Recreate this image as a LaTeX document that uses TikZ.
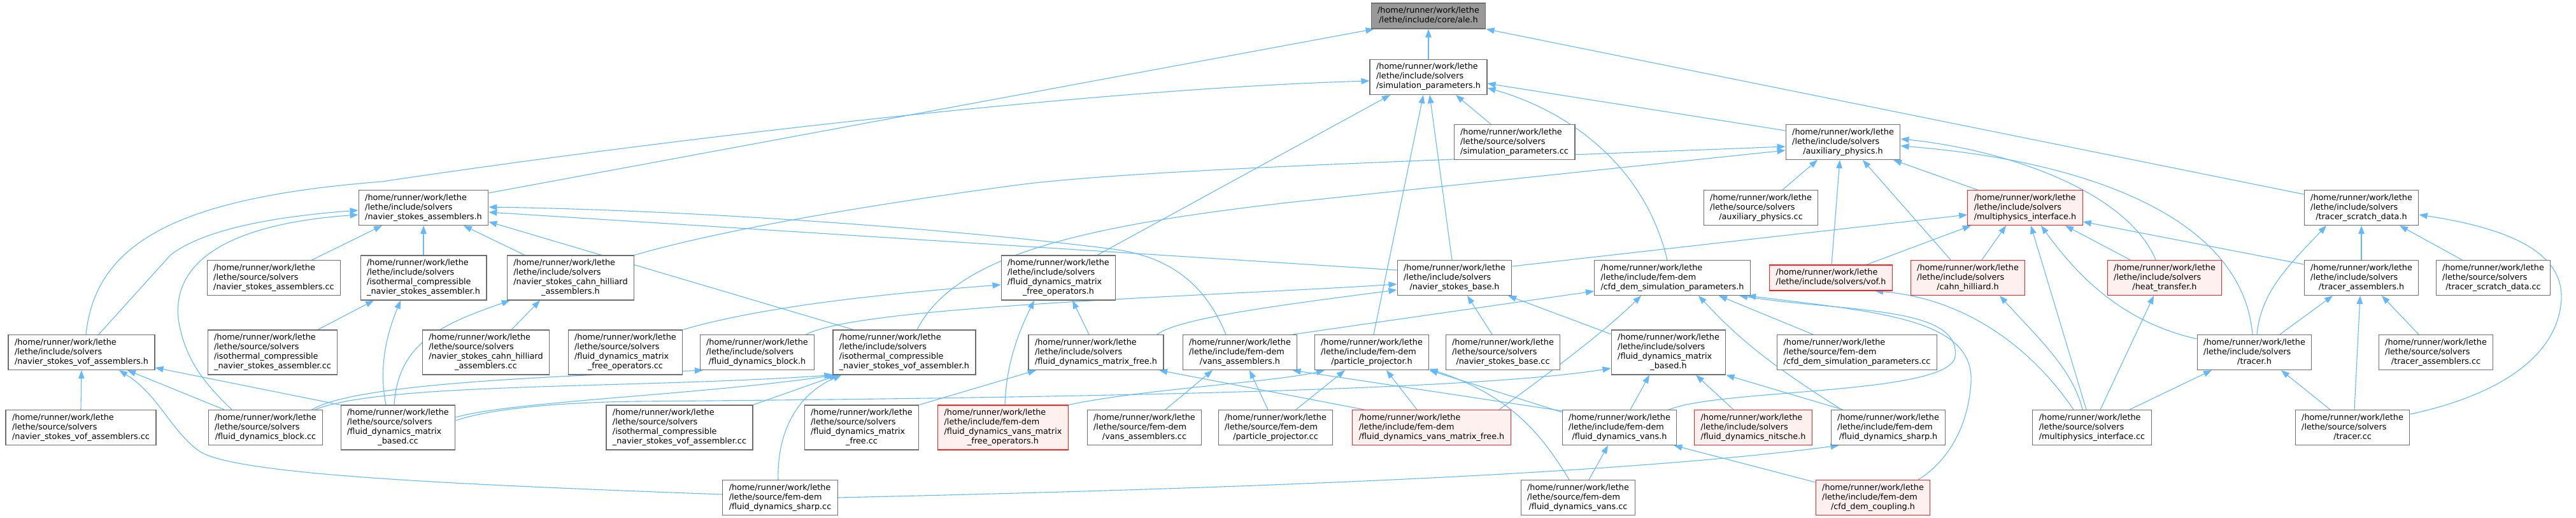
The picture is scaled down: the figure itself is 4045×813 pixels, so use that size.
\documentclass[tikz,border=0pt]{standalone}
\usepackage{fontspec}
\newfontfamily\dvs{DejaVu Sans}
\usetikzlibrary{arrows.meta}
\definecolor{eb}{HTML}{63B8FF}
\definecolor{bd}{HTML}{6E6E6E}
\definecolor{rb}{HTML}{FF2020}
\definecolor{rf}{HTML}{FFF0F0}
\definecolor{rootf}{HTML}{999999}
\newcommand{\hrw}{/home/runner/work/lethe}
\newcommand{\dlab}[2]{\begin{tabular}{@{}l@{}}#1\\\multicolumn{1}{@{}c@{}}{#2}\end{tabular}}
\pgfdeclarelayer{bg}
\pgfsetlayers{bg,main}
\begin{document}
\begin{tikzpicture}[x=1pt,y=-1pt,
  n/.style={draw=bd,fill=white,line width=1.2pt,inner xsep=10pt,inner ysep=5pt,
    font={\dvs\fontsize{12.8}{15}\selectfont}},
  rn/.style={n,draw=rb,fill=rf},
  root/.style={n,fill=rootf,draw=bd},
  e/.style={draw=eb,line width=1.1pt,{Triangle[length=13pt,width=9.5pt]}-}]
\path[use as bounding box] (0,0) rectangle (4045,813);
% row 1-3
\node[root] (ale) at (2243,25) {\dlab{\hrw}{/lethe/include/core/ale.h}};
\node[n] (sp) at (2243,121) {\dlab{\hrw\\/lethe/include/solvers}{/simulation\_parameters.h}};
\node[n] (spcc) at (2378,223) {\dlab{\hrw\\/lethe/source/solvers}{/simulation\_parameters.cc}};
\node[n] (aux) at (2894,223) {\dlab{\hrw\\/lethe/include/solvers}{/auxiliary\_physics.h}};
% row 4
\node[n] (nsa) at (665,326) {\dlab{\hrw\\/lethe/include/solvers}{/navier\_stokes\_assemblers.h}};
\node[n] (auxcc) at (2765,326) {\dlab{\hrw\\/lethe/source/solvers}{/auxiliary\_physics.cc}};
\node[rn] (mpi) at (3180,326) {\dlab{\hrw\\/lethe/include/solvers}{/multiphysics\_interface.h}};
\node[n] (tsd) at (3708,326) {\dlab{\hrw\\/lethe/include/solvers}{/tracer\_scratch\_data.h}};
% row 5
\node[n] (nsacc) at (430,436) {\dlab{\hrw\\/lethe/source/solvers}{/navier\_stokes\_assemblers.cc}};
\node[n] (icnsa) at (665,436) {\dlab{\hrw\\/lethe/include/solvers\\/isothermal\_compressible}{\_navier\_stokes\_assembler.h}};
\node[n] (nschaa) at (896,436) {\dlab{\hrw\\/lethe/include/solvers\\/navier\_stokes\_cahn\_hilliard}{\_assemblers.h}};
\node[n] (fdmfo) at (1662,436) {\dlab{\hrw\\/lethe/include/solvers\\/fluid\_dynamics\_matrix}{\_free\_operators.h}};
\node[n] (nsb) at (2284,436) {\dlab{\hrw\\/lethe/include/solvers}{/navier\_stokes\_base.h}};
\node[n] (cfdsp) at (2626,436) {\dlab{\hrw\\/lethe/include/fem-dem}{/cfd\_dem\_simulation\_parameters.h}};
\node[rn] (vof) at (2875,436) {\dlab{\hrw}{/lethe/include/solvers/vof.h}};
\node[rn] (ch) at (3090,436) {\dlab{\hrw\\/lethe/include/solvers}{/cahn\_hilliard.h}};
\node[rn] (ht) at (3399,436) {\dlab{\hrw\\/lethe/include/solvers}{/heat\_transfer.h}};
\node[n] (ta) at (3708,436) {\dlab{\hrw\\/lethe/include/solvers}{/tracer\_assemblers.h}};
\node[n] (tsdcc) at (3915,436) {\dlab{\hrw\\/lethe/source/solvers}{/tracer\_scratch\_data.cc}};
% row 6
\node[n] (nsvofa) at (128,553) {\dlab{\hrw\\/lethe/include/solvers}{/navier\_stokes\_vof\_assemblers.h}};
\node[n] (icnsacc) at (428,553) {\dlab{\hrw\\/lethe/source/solvers\\/isothermal\_compressible}{\_navier\_stokes\_assembler.cc}};
\node[n] (nschaacc) at (763,553) {\dlab{\hrw\\/lethe/source/solvers\\/navier\_stokes\_cahn\_hilliard}{\_assemblers.cc}};
\node[n] (fdmfocc) at (982,553) {\dlab{\hrw\\/lethe/source/solvers\\/fluid\_dynamics\_matrix}{\_free\_operators.cc}};
\node[n] (fdb) at (1189,553) {\dlab{\hrw\\/lethe/include/solvers}{/fluid\_dynamics\_block.h}};
\node[n] (icnsvofa) at (1420,553) {\dlab{\hrw\\/lethe/include/solvers\\/isothermal\_compressible}{\_navier\_stokes\_vof\_assembler.h}};
\node[n] (fdmf) at (1721,553) {\dlab{\hrw\\/lethe/include/solvers}{/fluid\_dynamics\_matrix\_free.h}};
\node[n] (vansa) at (1947,553) {\dlab{\hrw\\/lethe/include/fem-dem}{/vans\_assemblers.h}};
\node[n] (pp) at (2154,553) {\dlab{\hrw\\/lethe/include/fem-dem}{/particle\_projector.h}};
\node[n] (nsbcc) at (2360,553) {\dlab{\hrw\\/lethe/source/solvers}{/navier\_stokes\_base.cc}};
\node[n] (fdmb) at (2620,553) {\dlab{\hrw\\/lethe/include/solvers\\/fluid\_dynamics\_matrix}{\_based.h}};
\node[n] (cfdspcc) at (2916,553) {\dlab{\hrw\\/lethe/source/fem-dem}{/cfd\_dem\_simulation\_parameters.cc}};
\node[n] (tracer) at (3540,553) {\dlab{\hrw\\/lethe/include/solvers}{/tracer.h}};
\node[n] (tacc) at (3825,553) {\dlab{\hrw\\/lethe/source/solvers}{/tracer\_assemblers.cc}};
% row 7
\node[n] (nsvofacc) at (127,671) {\dlab{\hrw\\/lethe/source/solvers}{/navier\_stokes\_vof\_assemblers.cc}};
\node[n] (fdbcc) at (417,671) {\dlab{\hrw\\/lethe/source/solvers}{/fluid\_dynamics\_block.cc}};
\node[n] (fdmbcc) at (625,671) {\dlab{\hrw\\/lethe/source/solvers\\/fluid\_dynamics\_matrix}{\_based.cc}};
\node[n] (icnsvofacc) at (1067,671) {\dlab{\hrw\\/lethe/source/solvers\\/isothermal\_compressible}{\_navier\_stokes\_vof\_assembler.cc}};
\node[n] (fdmfcc) at (1353,671) {\dlab{\hrw\\/lethe/source/solvers\\/fluid\_dynamics\_matrix}{\_free.cc}};
\node[rn] (fdvmfo) at (1575,671) {\dlab{\hrw\\/lethe/include/fem-dem\\/fluid\_dynamics\_vans\_matrix}{\_free\_operators.h}};
\node[n] (vansacc) at (1797,671) {\dlab{\hrw\\/lethe/source/fem-dem}{/vans\_assemblers.cc}};
\node[n] (ppcc) at (2003,671) {\dlab{\hrw\\/lethe/source/fem-dem}{/particle\_projector.cc}};
\node[rn] (fdvmf) at (2248,671) {\dlab{\hrw\\/lethe/include/fem-dem}{/fluid\_dynamics\_vans\_matrix\_free.h}};
\node[n] (fdv) at (2543,671) {\dlab{\hrw\\/lethe/include/fem-dem}{/fluid\_dynamics\_vans.h}};
\node[rn] (fdn) at (2753,671) {\dlab{\hrw\\/lethe/include/solvers}{/fluid\_dynamics\_nitsche.h}};
\node[n] (fds) at (2965,671) {\dlab{\hrw\\/lethe/include/fem-dem}{/fluid\_dynamics\_sharp.h}};
\node[n] (mpicc) at (3285,671) {\dlab{\hrw\\/lethe/source/solvers}{/multiphysics\_interface.cc}};
\node[n] (tracercc) at (3694,671) {\dlab{\hrw\\/lethe/source/solvers}{/tracer.cc}};
% row 8
\node[n] (fdscc) at (1225,781) {\dlab{\hrw\\/lethe/source/fem-dem}{/fluid\_dynamics\_sharp.cc}};
\node[n] (fdvcc) at (2478,781) {\dlab{\hrw\\/lethe/source/fem-dem}{/fluid\_dynamics\_vans.cc}};
\node[rn] (cfdc) at (2941,781) {\dlab{\hrw\\/lethe/include/fem-dem}{/cfd\_dem\_coupling.h}};

\begin{pgfonlayer}{bg}
% ale
\draw[e] (ale.south) -- (sp.north);
\draw[e] ([xshift=5pt]ale.south west) -- ([yshift=-5pt]nsa.north east);
\draw[e] (ale.south east) -- ([yshift=-7pt]tsd.north west);
% simulation parameters
\draw[e] ([yshift=-6pt]sp.west) .. controls (1700,140) and (1000,225) .. (600,285) .. controls (280,310) and (150,380) .. ([xshift=7pt]nsvofa.north);
\draw[e] ([xshift=-60pt]sp.south) -- ([xshift=61pt]fdmfo.north);
\draw[e] ([xshift=-8pt]sp.south) -- ([xshift=3pt]pp.north);
\draw[e] ([xshift=2pt]sp.south) -- ([xshift=-4pt]nsb.north);
\draw[e] ([xshift=43pt]sp.south) -- ([xshift=-37pt]spcc.north);
\draw[e] ([yshift=-17pt]sp.east) .. controls (2450,170) and (2580,250) .. ([xshift=-8pt]cfdsp.north);
\draw[e] ([yshift=-10pt]sp.east) -- ([yshift=18pt]aux.west);
% auxiliary physics
\draw[e] ([xshift=-40pt]aux.south) -- ([xshift=34pt]auxcc.north);
\draw[e] ([xshift=-5pt]aux.south) -- ([xshift=1pt]vof.north);
\draw[e] ([xshift=31pt]aux.south) -- ([xshift=-27pt]ch.north);
\draw[e] ([xshift=79pt]aux.south) -- ([xshift=-75pt]mpi.north);
\draw[e] ([yshift=5pt]aux.east) .. controls (3150,235) and (3340,300) .. ([xshift=-14pt]ht.north);
\draw[e] ([yshift=-6pt]aux.east) .. controls (3250,250) and (3520,330) .. ([xshift=-3pt]tracer.north);
\draw[e] ([yshift=-7pt]aux.west) .. controls (2300,250) and (1800,265) .. (1600,290) .. controls (1300,330) and (1100,370) .. (nschaa.north east);
\draw[e] ([yshift=-13pt]aux.west) -- (2022,318) .. controls (1700,355) and (1500,400) .. ([xshift=20pt]icnsvofa.north);
% multiphysics interface
\draw[e] ([xshift=25pt]mpi.south) .. controls (3260,430) and (3330,505) .. ([yshift=-7pt]tracer.north west);
\draw[e] ([xshift=9pt]mpi.south) -- ([xshift=-9pt]mpicc.north);
\draw[e] ([xshift=63pt]mpi.south) -- ([xshift=-54pt]ht.north);
\draw[e] ([xshift=-30pt]mpi.south) -- ([xshift=22pt]ch.north);
\draw[e] ([xshift=-85pt]mpi.south) -- ([xshift=56pt]vof.north);
\draw[e] ([yshift=-11pt]mpi.west) -- ([yshift=18pt]nsb.east);
\draw[e] ([yshift=-22pt]mpi.east) -- ([yshift=-7pt]ta.north west);
% tracer scratch data
\draw[e] ([xshift=-55pt]tsd.south) .. controls (3590,420) and (3550,460) .. ([xshift=4pt]tracer.north);
\draw[e] (tsd.south) -- (ta.north);
\draw[e] ([xshift=60pt]tsd.south) -- ([xshift=-49pt]tsdcc.north);
\draw[e] ([yshift=-11pt]tsd.east) .. controls (3950,360) and (4025,400) .. (4022,470) .. controls (4015,580) and (3880,630) .. ([yshift=21pt]tracercc.east);
% tracer assemblers / tracer
\draw[e] ([xshift=-45pt]ta.south) -- ([xshift=40pt]tracer.north);
\draw[e] ([xshift=32pt]ta.south) -- ([xshift=-27pt]tacc.north);
\draw[e] ([xshift=-2pt]ta.south) -- ([xshift=3pt]tracercc.north);
\draw[e] ([xshift=42pt]tracer.south) -- ([xshift=-35pt]tracercc.north);
\draw[e] ([xshift=-67pt]tracer.south) -- ([xshift=59pt]mpicc.north);
% cahn hilliard, heat transfer, vof
\draw[e] ([xshift=50pt]ch.south) .. controls (3200,530) and (3255,580) .. ([xshift=-15pt]mpicc.north);
\draw[e] ([xshift=-17pt]ht.south) -- ([xshift=13pt]mpicc.north);
\draw[e] ([xshift=69pt]vof.south) .. controls (3100,470) and (3200,560) .. ([xshift=-29pt]mpicc.north);
% cfd dem simulation parameters
\draw[e] ([xshift=105pt]cfdsp.south) .. controls (2900,490) and (3080,480) .. (3070,560) .. controls (3060,620) and (2700,610) .. ([xshift=78pt]fdv.north);
\draw[e] ([xshift=118pt]cfdsp.south) .. controls (2950,490) and (3100,500) .. (3095,600) .. controls (3090,680) and (3050,730) .. ([xshift=71pt]cfdc.north);
\draw[e] ([yshift=-21pt]cfdsp.west) -- ([xshift=83pt]vansa.north);
\draw[e] ([xshift=-49pt]cfdsp.south) .. controls (2520,520) and (2440,580) .. ([xshift=106pt]fdvmf.north);
\draw[e] ([xshift=73pt]cfdsp.south) -- ([xshift=-69pt]cfdspcc.north);
\draw[e] ([xshift=41pt]cfdsp.south) .. controls (2720,520) and (2760,560) .. ([xshift=-73pt]fds.north);
% navier stokes base
\draw[e] ([xshift=84pt]nsb.south) -- ([yshift=-7pt]fdmb.north west);
\draw[e] ([xshift=20pt]nsb.south) -- ([xshift=-17pt]nsbcc.north);
\draw[e] ([yshift=-10pt]nsb.west) .. controls (1900,465) and (1350,480) .. ([xshift=77pt]fdb.north);
\draw[e] ([yshift=-19pt]nsb.west) .. controls (2000,480) and (1850,500) .. ([xshift=96pt]fdmf.north);
% navier stokes assemblers
\draw[e] ([yshift=-7pt]nsa.east) -- ([yshift=12pt]nsb.west);
\draw[e] ([yshift=1pt]nsa.east) .. controls (1100,330) and (1500,360) .. (1740,390) .. controls (1830,400) and (1890,440) .. ([xshift=-22pt]vansa.north);
\draw[e] ([yshift=-22pt]nsa.east) -- ([xshift=-80pt]icnsvofa.north);
\draw[e] ([xshift=-65pt]nsa.south) -- ([xshift=60pt]nsacc.north);
\draw[e] (nsa.south) -- (icnsa.north);
\draw[e] ([xshift=63pt]nsa.south) -- ([xshift=-72pt]nschaa.north);
\draw[e] ([yshift=-4pt]nsa.west) .. controls (430,340) and (320,360) .. (268,400) -- ([xshift=27pt]nsvofa.north);
\draw[e] ([yshift=-11pt]nsa.west) .. controls (380,350) and (270,400) .. (280,500) .. controls (290,570) and (330,610) .. ([xshift=-53pt]fdbcc.north);
% isothermal / cahn hilliard assemblers
\draw[e] ([xshift=-78pt]icnsa.south) -- ([xshift=71pt]icnsacc.north);
\draw[e] ([xshift=-36pt]icnsa.south) .. controls (605,530) and (595,580) .. ([xshift=-19pt]fdmbcc.north);
\draw[e] ([xshift=5pt]nschaa.south west) .. controls (690,510) and (625,540) .. ([xshift=-6pt]fdmbcc.north);
\draw[e] ([xshift=-48pt]nschaa.south) -- ([xshift=40pt]nschaacc.north);
% navier stokes vof assemblers
\draw[e] (nsvofa.south) -- (nsvofacc.north);
\draw[e] ([xshift=59pt]nsvofa.south) .. controls (250,620) and (270,680) .. (316,710) .. controls (380,745) and (700,760) .. ([yshift=5pt]fdscc.west);
\draw[e] ([xshift=72pt]nsvofa.south) -- ([xshift=-65pt]fdbcc.north);
\draw[e] ([yshift=-24pt]nsvofa.east) -- (fdmbcc.north west);
% fluid dynamics block
\draw[e] ([xshift=-85pt]fdb.south) .. controls (900,590) and (560,600) .. ([xshift=73pt]fdbcc.north);
% isothermal vof assembler
\draw[e] (icnsvofa.south west) .. controls (1000,610) and (600,600) .. ([xshift=78pt]fdbcc.north);
\draw[e] ([xshift=4pt]icnsvofa.south west) .. controls (1100,620) and (800,630) .. ([yshift=16pt]fdmbcc.east);
\draw[e] ([xshift=8pt]icnsvofa.south west) -- (icnsvofacc.north east);
\draw[e] ([xshift=14pt]icnsvofa.south west) .. controls (1250,620) and (1220,680) .. ([xshift=-3pt]fdscc.north);
% matrix based
\draw[e] ([yshift=-25pt]fdmb.west) .. controls (2300,615) and (1600,625) .. (1000,630) .. controls (850,632) and (760,645) .. ([yshift=11pt]fdmbcc.east);
\draw[e] ([xshift=-30pt]fdmb.south) -- ([xshift=17pt]fdv.north);
\draw[e] ([xshift=43pt]fdmb.south) -- ([xshift=-31pt]fdn.north);
\draw[e] (fdmb.south east) -- ([xshift=19pt]fds.north west);
% matrix free
\draw[e] ([xshift=-94pt]fdmf.south) -- (fdmfcc.north east);
\draw[e] ([xshift=22pt]fdmfo.south) -- ([xshift=-11pt]fdmf.north);
\draw[e] ([xshift=-38pt]fdmfo.south) .. controls (1600,520) and (1580,570) .. ([xshift=3pt]fdvmfo.north);
\draw[e] ([yshift=-11pt]fdmfo.west) .. controls (1400,460) and (1200,480) .. (fdmfocc.north east);
\draw[e] ([xshift=99pt]fdmf.south) -- ([xshift=19pt]fdvmf.north west);
% particle projector
\draw[e] ([xshift=-74pt]pp.south) .. controls (2000,600) and (1800,610) .. (fdvmfo.north east);
\draw[e] ([xshift=-42pt]pp.south) -- ([xshift=32pt]ppcc.north);
\draw[e] ([xshift=23pt]pp.south) -- ([xshift=-23pt]fdvmf.north);
\draw[e] (pp.south east) -- ([yshift=-4pt]fdv.north west);
\draw[e] ([yshift=2pt]pp.south east) .. controls (2370,620) and (2420,680) .. ([xshift=-14pt]fdvcc.north);
% vans assemblers
\draw[e] ([xshift=-43pt]vansa.south) -- ([xshift=33pt]vansacc.north);
\draw[e] ([xshift=15pt]vansa.south) -- ([xshift=-12pt]ppcc.north);
\draw[e] ([xshift=-8pt]vansa.south east) -- ([yshift=-2pt]fdv.north west);
% vans
\draw[e] ([xshift=-18pt]fdv.south) -- ([xshift=17pt]fdvcc.north);
\draw[e] ([xshift=-5pt]fdv.south east) -- ([yshift=-4pt]cfdc.north west);
% sharp
\draw[e] ([xshift=13pt]fds.south west) .. controls (2500,750) and (1800,770) .. (fdscc.east);
\end{pgfonlayer}
\end{tikzpicture}
\end{document}
